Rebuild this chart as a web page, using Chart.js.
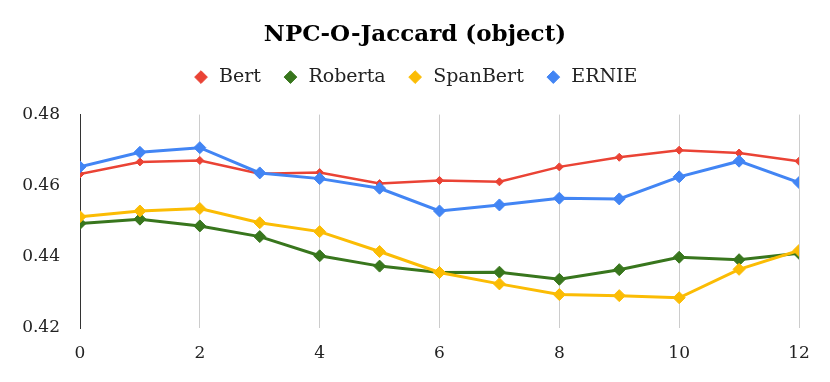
<!DOCTYPE html>
<html>
<head>
<meta charset="utf-8">
<script src="https://cdn.jsdelivr.net/npm/chart.js@4/dist/chart.umd.min.js"></script>
<style>
  html, body { margin: 0; padding: 0; background: #fff; }
  #wrap { width: 830px; height: 382px; }
</style>
</head>
<body>
<div id="wrap"><canvas id="jaccardChart"></canvas></div>
<script>
var layers = [0, 1, 2, 3, 4, 5, 6, 7, 8, 9, 10, 11, 12];
var bert = [0.4633, 0.4667, 0.4671, 0.4634, 0.4637, 0.4606, 0.4615, 0.4611, 0.4653, 0.4680, 0.4700, 0.4692, 0.4669];
var roberta = [0.4494, 0.4506, 0.4487, 0.4457, 0.4403, 0.4374, 0.4356, 0.4357, 0.4337, 0.4364, 0.4399, 0.4392, 0.4410];
var spanbert = [0.4513, 0.4529, 0.4536, 0.4496, 0.4471, 0.4415, 0.4356, 0.4324, 0.4294, 0.4291, 0.4285, 0.4365, 0.4418];
var ernie = [0.4653, 0.4694, 0.4707, 0.4636, 0.4620, 0.4593, 0.4529, 0.4546, 0.4565, 0.4563, 0.4625, 0.4669, 0.4609];

var serif = "'DejaVu Serif', serif";

function points(values) {
    return values.map(function (v, i) { return {x: layers[i], y: v}; });
}

function series(label, values, color, radius, width, order) {
    return {
        label: label,
        data: points(values),
        borderColor: color,
        backgroundColor: color,
        pointBackgroundColor: color,
        pointBorderColor: color,
        pointStyle: 'rectRot',
        pointRadius: radius,
        pointBorderWidth: 1,
        borderWidth: width,
        order: order
    };
}

// a bit more room between the legend and the plot
var legendGap = {
    id: 'legendGap',
    afterInit: function (chart) {
        var fit = chart.legend.fit;
        chart.legend.fit = function () {
            fit.call(this);
            this.height += 18;
        };
    }
};

new Chart(document.getElementById('jaccardChart'), {
    type: 'line',
    data: {
        datasets: [
            series('Bert', bert, '#EA4335', 4, 2.5, 1),
            series('Roberta', roberta, '#38761D', 6, 3, 1),
            series('SpanBert', spanbert, '#FBBC04', 6, 3, 0),
            series('ERNIE', ernie, '#4285F4', 6, 3, 0)
        ]
    },
    options: {
        responsive: true,
        maintainAspectRatio: false,
        animation: false,
        layout: { padding: 0 },
        plugins: {
            title: {
                display: true,
                text: 'NPC-O-Jaccard (object)',
                color: '#000',
                font: { family: serif, size: 23, weight: 'bold' },
                padding: { top: 21, bottom: -2 }
            },
            legend: {
                position: 'top',
                labels: {
                    usePointStyle: true,
                    boxWidth: 17,
                    boxHeight: 9,
                    padding: 21,
                    color: '#222',
                    font: { family: serif, size: 19 },
                    sort: function (a, b) { return a.datasetIndex - b.datasetIndex; }
                }
            },
            tooltip: { enabled: false }
        },
        scales: {
            x: {
                type: 'linear',
                min: 0,
                max: 12,
                ticks: {
                    stepSize: 2,
                    padding: 15,
                    color: '#222',
                    font: { family: serif, size: 17 }
                },
                grid: {
                    drawTicks: false,
                    color: function (ctx) { return ctx.tick && ctx.tick.value === 0 ? 'rgba(0,0,0,0)' : '#ccc'; }
                },
                border: { display: false },
                afterFit: function (scale) { scale.height = 54; }
            },
            y: {
                min: 0.42,
                max: 0.48,
                ticks: {
                    stepSize: 0.02,
                    padding: 20,
                    color: '#222',
                    font: { family: serif, size: 17 },
                    callback: function (v) { return v.toFixed(2); }
                },
                grid: { display: false, drawTicks: false },
                border: { display: true, color: '#333', width: 1 },
                afterFit: function (scale) { scale.width = 80; }
            },
            // empty right margin so the title and legend stay centred on the page
            yRight: {
                position: 'right',
                min: 0,
                max: 1,
                grid: { display: false },
                border: { display: false },
                ticks: { display: false },
                afterFit: function (scale) { scale.width = 31; }
            }
        }
    },
    plugins: [legendGap]
});
</script>
</body>
</html>
